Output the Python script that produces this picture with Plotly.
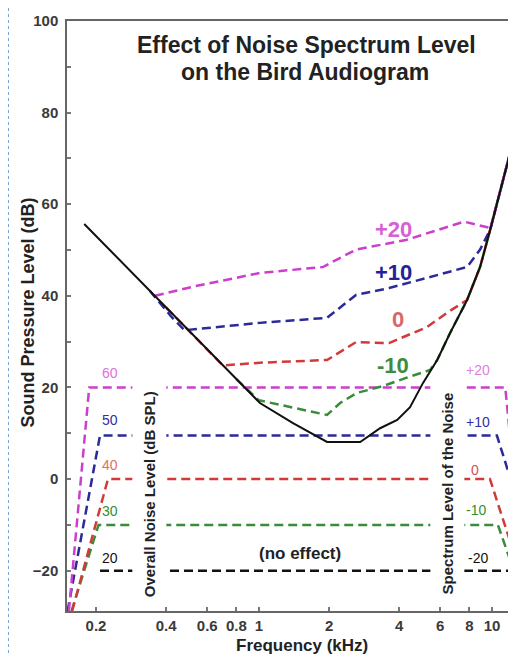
import math
import plotly.graph_objects as go

# ---------------- data (frequency in kHz, level in dB) ----------------
quiet_freq = [0.178, 1.01, 1.40, 1.78, 1.96, 2.72, 3.31, 3.92, 4.45, 5.06, 5.82, 6.61, 7.82, 8.89, 9.82, 11.97]
quiet_db = [55.7, 16.6, 12.2, 9.2, 8.1, 8.1, 11.1, 12.9, 15.7, 21.0, 26.0, 31.9, 39.1, 46.3, 54.4, 71.3]

plus20_freq = [0.358, 0.521, 1.01, 1.88, 2.61, 4.28, 7.6, 9.85, 11.97]
plus20_db = [40.0, 42.0, 45.0, 46.3, 50.1, 52.2, 56.2, 54.8, 71.3]

plus10_freq = [0.34, 0.42, 0.48, 1.01, 1.96, 2.61, 3.62, 6.41, 7.82, 8.89, 9.82, 11.97]
plus10_db = [41.1, 35.5, 32.5, 34.1, 35.2, 40.2, 41.7, 45.0, 46.3, 50.1, 54.4, 71.3]

zero_freq = [0.40, 0.70, 1.01, 1.96, 2.61, 3.62, 5.27, 6.41, 7.82, 8.89, 9.82, 11.97]
zero_db = [37.4, 24.8, 25.4, 26.0, 29.9, 29.7, 33.2, 36.3, 39.1, 46.3, 54.4, 71.3]

minus10_freq = [0.80, 1.0, 1.96, 2.23, 2.63, 3.41, 4.28, 5.42, 5.82, 6.61, 7.82, 8.89, 9.82, 11.97]
minus10_db = [21.8, 17.2, 14.0, 16.6, 18.8, 20.3, 22.1, 23.8, 26.0, 31.9, 39.1, 46.3, 54.4, 71.3]

# noise spectra (overall noise level 60/50/40/30/20 dB SPL)
noise60_freq = [0.153, 0.187, 11.4, 12.2, 13.2]
noise60_db = [-28.8, 20.0, 20.0, 4.8, -28.8]
noise50_freq = [0.151, 0.208, 10.5, 12.7, 16.0]
noise50_db = [-28.8, 9.5, 9.5, -3.9, -28.8]
noise40_freq = [0.158, 0.225, 9.8, 12.3, 14.5]
noise40_db = [-28.8, 0.0, 0.0, -15.5, -28.8]
noise30_freq = [0.157, 0.205, 10.6, 12.8, 14.5]
noise30_db = [-28.8, -10.0, -10.0, -22.0, -28.8]
noise20_freq = [0.208, 12.0, 14.0]
noise20_db = [-20.0, -20.0, -28.8]

x_tick_vals = [0.2, 0.4, 0.6, 0.8, 1, 2, 4, 6, 8, 10]
x_tick_text = ["0.2", "0.4", "0.6", "0.8", "1", "2", "4", "6", "8", "10"]

curve_labels = ["+20", "+10", "0", "-10"]
curve_label_freq = [3.77, 3.77, 3.95, 3.77]
curve_label_db = [54.4, 45.0, 34.8, 24.9]

noise_left_labels = ["60", "50", "40", "30", "20"]
noise_left_freq = [0.230, 0.230, 0.230, 0.230, 0.230]
noise_left_db = [23.2, 12.9, 3.1, -7.0, -17.3]

noise_right_labels = ["+20", "+10", "0", "-10", "-20"]
noise_right_freq = [8.72, 8.72, 8.47, 8.55, 8.72]
noise_right_db = [23.8, 12.5, 2.0, -6.8, -17.3]

# ---------------- style ----------------
FONT = "Arial, Liberation Sans, sans-serif"
MAG, BLU, RED, GRN, BLK = "#cc3fcc", "#2a2a98", "#d23a3a", "#3a8c3a", "#111111"
LBL_MAG, LBL_BLU, LBL_RED, LBL_GRN = "#d660d6", "#22229a", "#d86868", "#3c8c3c"
DASH = "9px,5px"

# page body has an 8px margin: figure is laid out in window pixels minus 8
W, H = 508, 646
PL, PT, PR, PB = 67, 21, 516, 611  # plot area in window pixels
PW, PH = PR - PL, PB - PT


def px(X):
    return (X - PL) / PW


def py(Y):
    return (PB - Y) / PH


fig = go.Figure()


def dashed(fx, fy, color):
    fig.add_trace(go.Scatter(x=fx, y=fy, mode="lines", showlegend=False, hoverinfo="skip",
                             line=dict(color=color, width=2.5, dash=DASH)))


# noise spectra
dashed(noise20_freq, noise20_db, BLK)
dashed(noise30_freq, noise30_db, GRN)
dashed(noise40_freq, noise40_db, RED)
dashed(noise50_freq, noise50_db, BLU)
dashed(noise60_freq, noise60_db, MAG)

# masked audiograms
dashed(minus10_freq, minus10_db, GRN)
dashed(zero_freq, zero_db, RED)
dashed(plus10_freq, plus10_db, BLU)
dashed(plus20_freq, plus20_db, MAG)

# quiet audiogram
fig.add_trace(go.Scatter(x=quiet_freq, y=quiet_db, mode="lines", showlegend=False, hoverinfo="skip",
                         line=dict(color=BLK, width=2)))

ann = []
lx = lambda f: math.log10(f)

for t, f, d, c in zip(curve_labels, curve_label_freq, curve_label_db, [LBL_MAG, LBL_BLU, LBL_RED, LBL_GRN]):
    ann.append(dict(x=lx(f), y=d, xref="x", yref="y", text=t, showarrow=False,
                    xanchor="center", yanchor="middle",
                    font=dict(family=FONT, size=22, color=c, weight="bold")))

for t, f, d, c in zip(noise_left_labels, noise_left_freq, noise_left_db,
                      ["#e070e0", "#3030a0", "#e07060", "#309030", "#111111"]):
    ann.append(dict(x=lx(f), y=d, xref="x", yref="y", text=t, showarrow=False,
                    xanchor="center", yanchor="middle",
                    font=dict(family=FONT, size=14, color=c)))

for t, f, d, c in zip(noise_right_labels, noise_right_freq, noise_right_db,
                      ["#e080e0", "#3030a0", "#d85050", "#309030", "#111111"]):
    ann.append(dict(x=lx(f), y=d, xref="x", yref="y", text=t, showarrow=False,
                    xanchor="center", yanchor="middle",
                    font=dict(family=FONT, size=14, color=c)))

ann.append(dict(x=lx(1.50), y=-16.2, xref="x", yref="y", text="(no effect)", showarrow=False,
                xanchor="center", yanchor="middle",
                font=dict(family=FONT, size=17, color="#222", weight="bold")))

ann.append(dict(x=lx(0.3376), y=-3.3, xref="x", yref="y", text="Overall Noise Level (dB SPL)",
                textangle=-90, showarrow=False, bgcolor="white", borderpad=8,
                xanchor="center", yanchor="middle",
                font=dict(family=FONT, size=15, color="#222", weight="bold")))
ann.append(dict(x=lx(6.42), y=-3.1, xref="x", yref="y", text="Spectrum Level of the Noise",
                textangle=-90, showarrow=False, bgcolor="white", borderpad=8,
                xanchor="center", yanchor="middle",
                font=dict(family=FONT, size=15, color="#222", weight="bold")))

# title lines
ann.append(dict(x=px(306.5), y=py(45), xref="paper", yref="paper",
                text="Effect of Noise Spectrum Level", showarrow=False,
                xanchor="center", yanchor="middle",
                font=dict(family=FONT, size=23, color="#222", weight="bold")))
ann.append(dict(x=px(304.5), y=py(72), xref="paper", yref="paper",
                text="on the Bird Audiogram", showarrow=False,
                xanchor="center", yanchor="middle",
                font=dict(family=FONT, size=23, color="#222", weight="bold")))

# axis titles
ann.append(dict(x=px(27.5), y=py(313), xref="paper", yref="paper",
                text="Sound Pressure Level (dB)", textangle=-90, showarrow=False,
                xanchor="center", yanchor="middle",
                font=dict(family=FONT, size=18, color="#222", weight="bold")))
ann.append(dict(x=px(302), y=py(645), xref="paper", yref="paper",
                text="Frequency (kHz)", showarrow=False,
                xanchor="center", yanchor="middle",
                font=dict(family=FONT, size=17, color="#222", weight="bold")))

shapes = [
    dict(type="line", xref="paper", yref="paper", x0=px(8.5), x1=px(8.5),
         y0=py(8), y1=py(654), line=dict(color="#7fa6c6", width=1, dash="dot")),
]

fig.update_layout(
    width=W, height=H,
    margin=dict(l=PL - 8, r=0, t=PT - 8, b=(H + 8) - PB, autoexpand=False),
    paper_bgcolor="white", plot_bgcolor="white",
    showlegend=False,
    annotations=ann,
    shapes=shapes,
    font=dict(family=FONT, color="#333"),
)

fig.update_xaxes(
    type="log", range=[-0.8235, 1.103],
    tickvals=x_tick_vals, ticktext=x_tick_text,
    ticks="inside", ticklen=4, tickwidth=1.5, tickcolor="#777",
    showline=True, linecolor="#666", linewidth=1.5, mirror=True,
    showgrid=False, zeroline=False, automargin=False,
    tickfont=dict(family=FONT, size=15, color="#3a3a3a", weight="bold"),
    ticklabelstandoff=0,
)
fig.update_yaxes(
    range=[-28.8, 100], dtick=20, tick0=0,
    ticks="inside", ticklen=4, tickwidth=1.5, tickcolor="#777",
    minor=dict(dtick=10, ticks="inside", ticklen=4, tickcolor="#777", showgrid=False),
    showline=True, linecolor="#666", linewidth=1.5,
    showgrid=False, zeroline=False, automargin=False,
    tickfont=dict(family=FONT, size=15, color="#3a3a3a", weight="bold"),
    ticklabelstandoff=4,
)

fig.write_html("out.html")
